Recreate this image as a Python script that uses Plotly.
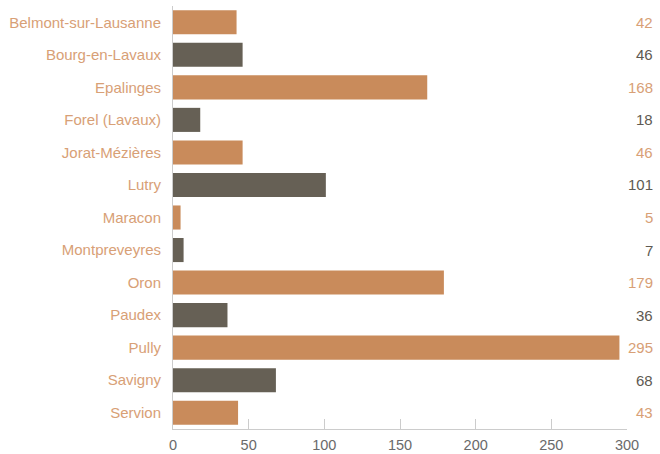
import plotly.graph_objects as go

categories = ["Belmont-sur-Lausanne", "Bourg-en-Lavaux", "Epalinges", "Forel (Lavaux)",
              "Jorat-Mézières", "Lutry", "Maracon", "Montpreveyres", "Oron", "Paudex",
              "Pully", "Savigny", "Servion"]
values = [42, 46, 168, 18, 46, 101, 5, 7, 179, 36, 295, 68, 43]
tick_vals = [0, 50, 100, 150, 200, 250, 300]

orange = "#C98B5B"
gray = "#666055"
colors = [orange if i % 2 == 0 else gray for i in range(len(categories))]
label_colors = ["#D8A076" if i % 2 == 0 else "#5E5A52" for i in range(len(categories))]
FONT = "Liberation Sans, Arial, sans-serif"

fig = go.Figure(go.Bar(
    x=values, y=categories, orientation="h",
    marker=dict(color=colors, line=dict(width=0)),
    hoverinfo="skip",
))

for c, v, lc in zip(categories, values, label_colors):
    fig.add_annotation(x=1.062, xref="paper", y=c, yref="y", text=str(v),
                       showarrow=False, xanchor="right",
                       font=dict(size=15, color=lc, family=FONT))

fig.update_layout(
    width=660, height=454,
    margin=dict(l=173, r=33, t=6, b=25),
    paper_bgcolor="white", plot_bgcolor="white",
    bargap=0.26,
    showlegend=False,
    font=dict(family=FONT),
    xaxis=dict(range=[0, 300], tickvals=tick_vals, showgrid=False, zeroline=False,
               showline=True, linecolor="#cccccc", linewidth=1, automargin=False,
               ticks="inside", ticklen=10, tickcolor="#cccccc", ticklabelstandoff=3,
               tickfont=dict(size=14.5, color="#6a6a6a")),
    yaxis=dict(categoryorder="array", categoryarray=categories, autorange="reversed",
               showgrid=False, zeroline=False, showline=True, linecolor="#cccccc",
               linewidth=1, ticks="", ticklabelstandoff=8, automargin=False,
               tickfont=dict(size=15, color="#D8A076")),
)

fig.write_html("out.html", config={"displayModeBar": False},
               post_script="document.body.style.margin='0';document.body.style.overflow='hidden';")
